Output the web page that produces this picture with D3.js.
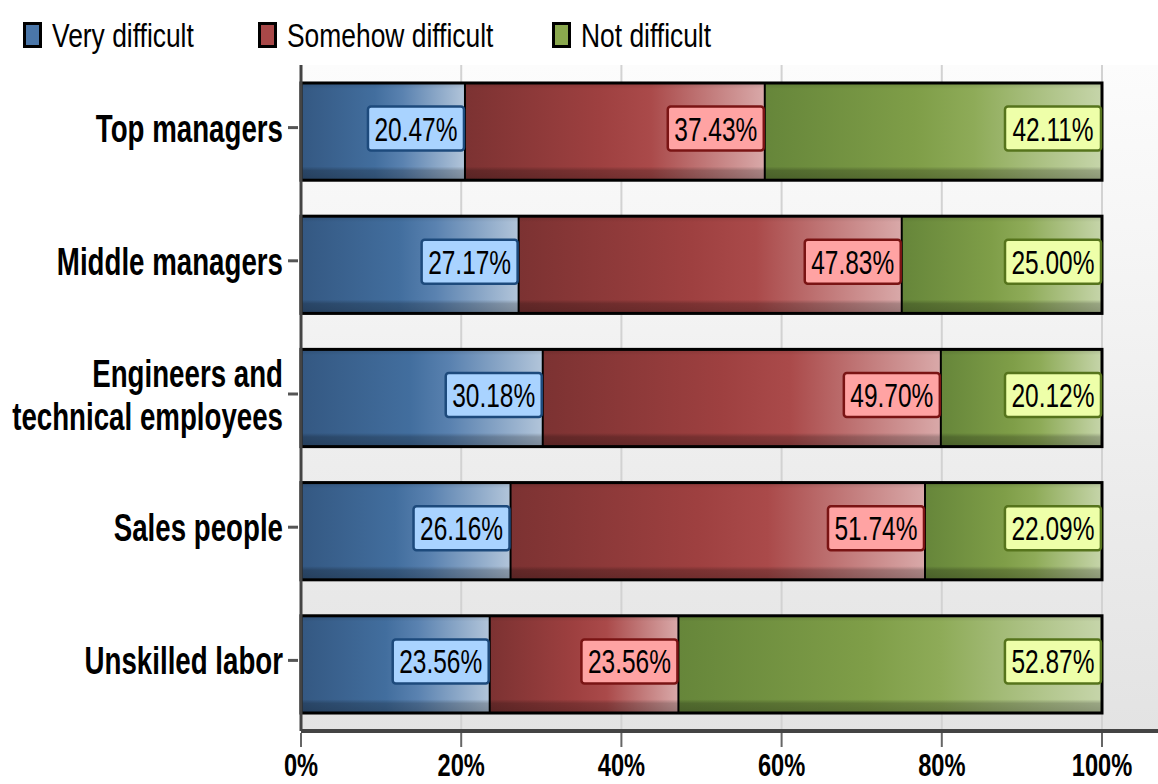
<!DOCTYPE html>
<html>
<head>
<meta charset="utf-8">
<title>Difficulty filling positions</title>
<script src="https://d3js.org/d3.v7.min.js"></script>
<style>
  body { margin: 0; background: #fff; }
  svg text { font-family: "Liberation Sans", Arial, sans-serif; fill: #000; }
</style>
</head>
<body>
<div id="chart"></div>
<script>
// chart data
const categories = ["Top managers", "Middle managers", "Engineers and technical employees", "Sales people", "Unskilled labor"];
const seriesNames = ["Very difficult", "Somehow difficult", "Not difficult"];
const veryDifficult = [20.47, 27.17, 30.18, 26.16, 23.56];
const somehowDifficult = [37.43, 47.83, 49.70, 51.74, 23.56];
const notDifficult = [42.11, 25.00, 20.12, 22.09, 52.87];
const xTicks = [0, 20, 40, 60, 80, 100];

const width = 1158, height = 784;
const margin = {top: 65, left: 301, bottom: 53};
const plotRight = 1102;

// colours: legend swatch, gradient stops, label box fill + border
const palette = [
  {swatch: "#4a76a8", stops: ["#345882", "#426e9e", "#5a82b0", "#b2c5da"], box: "#a9d3ff", edge: "#1d4a7c"},
  {swatch: "#a84848", stops: ["#7c3232", "#9e4040", "#aa4a4a", "#d9a9a9"], box: "#ffa3a3", edge: "#7a1414"},
  {swatch: "#8aa84e", stops: ["#66863a", "#7f9e48", "#8eab58", "#c6d5aa"], box: "#eeffa9", edge: "#56741c"}
];

const rows = categories.map((c, i) => ({
  cat: c, v0: veryDifficult[i], v1: somehowDifficult[i], v2: notDifficult[i]
}));

const svg = d3.select("#chart").append("svg")
  .attr("width", width).attr("height", height);

const defs = svg.append("defs");

const x = d3.scaleLinear().domain([0, 100]).range([margin.left, plotRight]);
const y = d3.scaleBand().domain(categories)
  .range([margin.top, height - margin.bottom])
  .paddingInner(0.27).paddingOuter(0.135);

// background gradient
const bg = defs.append("linearGradient").attr("id", "bg")
  .attr("x1", 0).attr("y1", 0).attr("x2", 0).attr("y2", 1);
bg.append("stop").attr("offset", 0).attr("stop-color", "#fcfcfc");
bg.append("stop").attr("offset", 1).attr("stop-color", "#e3e3e3");

palette.forEach((p, i) => {
  const g = defs.append("linearGradient").attr("id", "seg" + i)
    .attr("x1", 0).attr("y1", 0).attr("x2", 1).attr("y2", 0);
  [0, 0.45, 0.62, 1].forEach((o, k) =>
    g.append("stop").attr("offset", o).attr("stop-color", p.stops[k]));
});

// bevel shading on top of the segments
const shade = defs.append("linearGradient").attr("id", "shade")
  .attr("x1", 0).attr("y1", 0).attr("x2", 0).attr("y2", 1);
shade.append("stop").attr("offset", 0).attr("stop-color", "#000").attr("stop-opacity", 0.12);
shade.append("stop").attr("offset", 0.06).attr("stop-color", "#000").attr("stop-opacity", 0);
shade.append("stop").attr("offset", 0.86).attr("stop-color", "#000").attr("stop-opacity", 0);
shade.append("stop").attr("offset", 0.9).attr("stop-color", "#000").attr("stop-opacity", 0.22);
shade.append("stop").attr("offset", 1).attr("stop-color", "#000").attr("stop-opacity", 0.3);

svg.append("rect")
  .attr("x", margin.left).attr("y", margin.top)
  .attr("width", width - margin.left).attr("height", y.range()[1] - margin.top)
  .attr("fill", "url(#bg)");

// grid lines
svg.append("g").selectAll("line")
  .data(xTicks.slice(1)).join("line")
  .attr("x1", d => x(d)).attr("x2", d => x(d))
  .attr("y1", margin.top).attr("y2", y.range()[1])
  .attr("stroke", "#d2d2d2").attr("stroke-width", 2);

// condensed text helper
function ctext(sel, px, py, str, size, weight, sx, anchor) {
  const g = sel.append("g").attr("transform", `translate(${px},${py}) scale(${sx},1)`);
  return g.append("text")
    .attr("text-anchor", anchor || "start")
    .style("font-size", size + "px")
    .style("font-weight", weight)
    .text(str);
}

// bars
const stack = d3.stack().keys(["v0", "v1", "v2"])(rows);
const barG = svg.append("g");
stack.forEach((layer, i) => {
  layer.forEach(d => {
    const cat = d.data.cat;
    const x0 = x(d[0]), x1 = x(Math.min(d[1], 100));
    barG.append("rect")
      .attr("x", x0).attr("y", y(cat))
      .attr("width", x1 - x0).attr("height", y.bandwidth())
      .attr("fill", `url(#seg${i})`);
    barG.append("rect")
      .attr("x", x0).attr("y", y(cat))
      .attr("width", x1 - x0).attr("height", y.bandwidth())
      .attr("fill", "url(#shade)");
    if (i > 0) {
      barG.append("line")
        .attr("x1", x0).attr("x2", x0)
        .attr("y1", y(cat)).attr("y2", y(cat) + y.bandwidth())
        .attr("stroke", "#000").attr("stroke-width", 2);
    }
  });
});
rows.forEach(r => {
  barG.append("rect")
    .attr("x", x(0)).attr("y", y(r.cat))
    .attr("width", x(100) - x(0)).attr("height", y.bandwidth())
    .attr("fill", "none").attr("stroke", "#000").attr("stroke-width", 3);
});

// value labels
const labG = svg.append("g");
stack.forEach((layer, i) => {
  layer.forEach(d => {
    const cat = d.data.cat;
    const right = x(Math.min(d[1], 100));
    const cy = y(cat) + y.bandwidth() / 2 - 3;
    labG.append("rect")
      .attr("x", right - 97).attr("y", cy - 22)
      .attr("width", 96).attr("height", 44)
      .attr("rx", 3)
      .attr("fill", palette[i].box)
      .attr("stroke", palette[i].edge).attr("stroke-width", 2.5);
    ctext(labG, right - 49, cy + 12, (d[1] - d[0]).toFixed(2) + "%", 34, "normal", 0.72, "middle");
  });
});

// y axis
svg.append("line")
  .attr("x1", margin.left).attr("x2", margin.left)
  .attr("y1", margin.top).attr("y2", y.range()[1])
  .attr("stroke", "#444").attr("stroke-width", 3);
const yLab = svg.append("g");
categories.forEach(c => {
  const cy = y(c) + y.bandwidth() / 2;
  yLab.append("line")
    .attr("x1", 288).attr("x2", 298).attr("y1", cy - 4).attr("y2", cy - 4)
    .attr("stroke", "#555").attr("stroke-width", 3);
  const lines = c.length > 20 ? [c.slice(0, c.indexOf(" and ") + 4), c.slice(c.indexOf(" and ") + 5)] : [c];
  lines.forEach((ln, k) => {
    const by = lines.length === 1 ? cy + 10 : cy - 11 + k * 43;
    ctext(yLab, 283, by, ln, 39, "bold", 0.71, "end");
  });
});

// x axis
svg.append("line")
  .attr("x1", margin.left).attr("x2", width)
  .attr("y1", y.range()[1]).attr("y2", y.range()[1])
  .attr("stroke", "#444").attr("stroke-width", 4);
const xAx = svg.append("g");
xTicks.forEach(t => {
  xAx.append("line")
    .attr("x1", x(t)).attr("x2", x(t))
    .attr("y1", y.range()[1] + 2).attr("y2", y.range()[1] + 16)
    .attr("stroke", "#666").attr("stroke-width", 2);
  ctext(xAx, x(t), 776, t + "%", 32, "bold", 0.74, "middle");
});

// legend
const legX = [23, 258, 552];
const leg = svg.append("g");
seriesNames.forEach((s, i) => {
  leg.append("rect")
    .attr("x", legX[i] + 1.5).attr("y", 23.5)
    .attr("width", 16).attr("height", 23)
    .attr("fill", palette[i].swatch)
    .attr("stroke", "#000").attr("stroke-width", 3);
  ctext(leg, legX[i] + 29, 47, s, 33, "normal", 0.8, "start");
});
</script>
</body>
</html>
